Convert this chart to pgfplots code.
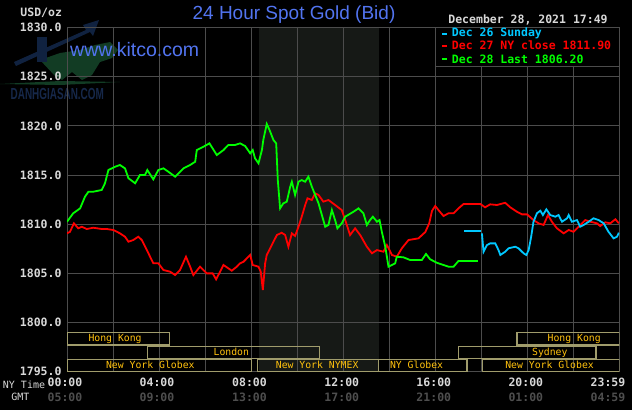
\documentclass[border=0pt]{standalone}
\usepackage{fontspec}
\setmainfont{Liberation Sans}
\newfontfamily\mono{DejaVu Sans Mono}
\usepackage{pgfplots}
\pgfplotsset{compat=1.18}
\definecolor{gridc}{HTML}{4C4C4C}
\definecolor{shadec}{HTML}{161916}
\definecolor{lblgray}{HTML}{D8D8D8}
\definecolor{gmtgray}{HTML}{4E4E4E}
\definecolor{titleblue}{HTML}{5274F0}
\definecolor{sesscol}{HTML}{A09C6C}
\definecolor{sesstext}{HTML}{FFC20E}
\definecolor{cyanc}{HTML}{00C8FF}
\definecolor{greenc}{HTML}{00FF00}
\definecolor{redc}{HTML}{FF0000}
\definecolor{wmnavy}{HTML}{102240}
\definecolor{wmtext}{HTML}{16284A}
\definecolor{wmgreen}{HTML}{123C24}
\newcommand{\tickfont}{\mono\bfseries\fontsize{11.5bp}{12bp}\selectfont}
\newcommand{\smallmono}{\mono\fontsize{10bp}{11bp}\selectfont}
\newcommand{\sessfont}{\mono\fontsize{9.8bp}{10bp}\selectfont}
\begin{document}
\begin{tikzpicture}[x=1bp,y=1bp]
\fill[black] (0,0) rectangle (632,410);
\useasboundingbox (0,0) rectangle (632,410);
% watermark
\fill[wmgreen] (0,326) -- (60,329) -- (120,328) -- (60,325) -- cycle;
\fill[wmgreen] (40,350) -- (60,357) -- (80,360) -- (95,365) -- (110,368) -- (118,360) -- (112,352) -- (100,348) -- (92,335) -- (82,330) -- (72,338) -- (62,330) -- (55,334) -- cycle;
\fill[wmnavy] (37,348) rectangle (47,373);
\fill[wmnavy] (14,348) -- (86,380) -- (83,385) -- (99,390) -- (93,374) -- (90,378) -- (16,344) -- cycle;
\node[text=wmtext, font=\bfseries\fontsize{16bp}{16bp}\selectfont, xscale=0.62, inner sep=0pt] at (57.3,316) {DANHGIASAN.COM};
% NYMEX shading
\fill[shadec] (258.5,38.3) rectangle (378.8,382.5);
\begin{axis}[
  at={(67bp,38.3bp)}, anchor=south west,
  scale only axis, width=552.3bp, height=344.2bp,
  xmin=0, xmax=24, ymin=1795, ymax=1830,
  xtick={0,2,...,24}, ytick={1795,1800,...,1830},
  xticklabels={},
  grid=major, major grid style={gridc, line width=1bp},
  axis line style={gridc, line width=1bp},
  major tick length=0pt,
  yticklabel style={font=\tickfont, text=lblgray, anchor=east, inner sep=0pt, xshift=-5.3bp},
  /pgf/number format/fixed, /pgf/number format/fixed zerofill,
  /pgf/number format/precision=1, /pgf/number format/1000 sep={},
  /pgf/number format/assume math mode=true,
]
% Dec 27 (red)
\addplot[redc, line width=1.8bp, mark=none] coordinates {
(0,1809.07) (0.13,1809.23) (0.30,1810.09) (0.49,1809.58) (0.64,1809.74) (0.86,1809.51)
(1.14,1809.64) (1.51,1809.51) (1.73,1809.51) (2.01,1809.41) (2.30,1809.07) (2.52,1808.73)
(2.67,1808.22) (2.88,1808.39) (3.10,1808.73) (3.25,1808.39) (3.47,1807.37) (3.75,1806.02)
(3.97,1806.02) (4.19,1805.34) (4.48,1805.17) (4.70,1804.83) (4.91,1805.34) (5.17,1806.69)
(5.35,1805.68) (5.49,1804.83) (5.78,1805.68) (6.07,1805.00) (6.33,1805.00) (6.48,1804.39)
(6.80,1805.85) (7.16,1805.27) (7.38,1805.68) (7.52,1806.02) (7.67,1806.18) (7.96,1806.87)
(8.07,1805.85) (8.32,1805.68) (8.42,1805.17) (8.51,1803.31) (8.61,1806.02) (8.68,1806.87)
(8.90,1807.88) (9.12,1808.90) (9.33,1809.13) (9.48,1808.90) (9.62,1807.71) (9.77,1809.07)
(9.91,1808.80) (10.06,1809.74) (10.20,1810.76) (10.35,1811.95) (10.45,1812.63) (10.64,1812.46)
(10.78,1813.14) (10.93,1812.97) (11.14,1812.29) (11.36,1812.46) (11.65,1811.95) (11.94,1811.44)
(12.16,1809.92) (12.30,1808.90) (12.52,1809.58) (12.74,1808.90) (13.03,1807.71) (13.25,1807.04)
(13.47,1807.37) (13.75,1807.20) (13.90,1807.88) (14.12,1806.87) (14.33,1806.69) (14.55,1807.55)
(14.84,1808.39) (15.27,1808.56) (15.35,1808.73) (15.57,1809.20) (15.74,1810.09) (15.86,1811.35)
(16.00,1811.85) (16.14,1811.44) (16.36,1810.83) (16.58,1811.11) (16.80,1811.11) (17.01,1811.61)
(17.23,1812.05) (17.96,1812.05) (18.17,1811.72) (18.39,1812.02) (18.68,1811.95) (19.04,1812.18)
(19.26,1811.72) (19.55,1811.27) (19.77,1811.00) (19.99,1811.00) (20.27,1810.42) (20.49,1810.09)
(20.71,1809.92) (20.90,1810.93) (21.07,1810.25) (21.29,1809.58) (21.58,1809.07) (21.80,1809.41)
(22.01,1809.23) (22.23,1809.74) (22.52,1810.42) (22.74,1810.25) (23.03,1810.09) (23.17,1809.81)
(23.39,1810.19) (23.61,1810.09) (23.83,1810.50) (23.98,1810.09)
};
% Dec 26 Sunday (cyan)
\addplot[cyanc, line width=2.6bp, mark=none] coordinates {(17.27,1809.31) (18.00,1809.31)};
\addplot[cyanc, line width=1.8bp, mark=none] coordinates {
(18.03,1809.07) (18.10,1807.20) (18.25,1807.88) (18.39,1808.05) (18.61,1808.05) (18.75,1807.37)
(18.83,1806.87) (19.04,1807.20) (19.19,1807.55) (19.48,1807.71) (19.62,1807.55) (19.84,1807.04)
(19.96,1806.87) (20.06,1807.37) (20.17,1808.73) (20.27,1810.25) (20.42,1811.11) (20.57,1811.37)
(20.68,1810.93) (20.83,1811.51) (21.00,1810.93) (21.22,1810.76) (21.36,1810.93) (21.51,1810.25)
(21.73,1810.60) (21.80,1810.93) (21.94,1810.25) (22.16,1810.42) (22.30,1809.74) (22.45,1809.92)
(22.67,1810.25) (22.88,1810.60) (23.10,1810.42) (23.32,1810.09) (23.53,1809.23) (23.75,1808.56)
(23.90,1808.73) (23.98,1809.13)
};
% Dec 28 (green)
\addplot[greenc, line width=1.8bp, mark=none] coordinates {
(0,1810.25) (0.27,1811.11) (0.57,1811.61) (0.78,1812.79) (0.93,1813.30) (1.14,1813.30)
(1.51,1813.48) (1.65,1814.16) (1.80,1815.51) (2.09,1815.84) (2.30,1816.02) (2.52,1815.68)
(2.67,1814.67) (2.96,1814.16) (3.17,1815.00) (3.39,1815.00) (3.49,1815.51) (3.75,1814.56)
(3.97,1815.51) (4.19,1815.68) (4.40,1815.34) (4.70,1814.83) (5.06,1815.68) (5.35,1816.02)
(5.57,1816.35) (5.64,1817.54) (5.93,1817.88) (6.19,1818.22) (6.51,1817.03) (6.80,1817.54)
(7.01,1818.05) (7.30,1818.05) (7.52,1818.22) (7.74,1817.95) (7.96,1817.21) (8.07,1817.54)
(8.17,1816.70) (8.32,1816.19) (8.47,1817.54) (8.53,1818.56) (8.68,1820.19) (8.80,1819.58)
(8.97,1818.56) (9.09,1818.22) (9.16,1814.49) (9.26,1811.61) (9.40,1812.12) (9.55,1812.29)
(9.70,1813.81) (9.77,1814.32) (9.91,1812.97) (10.06,1814.32) (10.20,1814.49) (10.35,1814.32)
(10.49,1814.83) (10.64,1813.81) (10.93,1812.12) (11.22,1809.74) (11.36,1809.92) (11.51,1811.44)
(11.65,1810.42) (11.75,1809.58) (11.94,1810.09) (12.09,1810.76) (12.45,1811.27) (12.67,1811.61)
(12.88,1811.11) (13.03,1809.92) (13.17,1810.42) (13.29,1810.76) (13.47,1810.25) (13.58,1810.42)
(13.68,1809.23) (13.83,1807.71) (13.97,1805.68) (14.12,1805.85) (14.26,1806.02) (14.33,1806.69)
(14.62,1806.63) (14.91,1806.36) (15.20,1806.36) (15.42,1806.36) (15.60,1806.97) (15.78,1806.43)
(16.07,1806.08) (16.36,1805.85) (16.58,1805.68) (16.80,1805.68) (17.01,1806.26)
};
\addplot[greenc, line width=2.6bp, mark=none] coordinates {(17.01,1806.26) (17.84,1806.26)};
% trading sessions
\begin{scope}[sesscol, line width=1.3bp]
\draw (axis cs:0,1797.73) rectangle (axis cs:4.45,1798.97);
\draw (axis cs:19.55,1797.73) rectangle (axis cs:24,1798.97);
\draw (axis cs:3.49,1796.34) rectangle (axis cs:10.97,1797.58);
\draw (axis cs:17.0,1796.34) rectangle (axis cs:22.99,1797.58);
\draw (axis cs:0,1795.0) rectangle (axis cs:8.03,1796.24);
\draw (axis cs:8.29,1795.0) rectangle (axis cs:13.53,1796.24);
\draw (axis cs:13.53,1795.0) rectangle (axis cs:17.38,1796.24);
\draw (axis cs:18.06,1795.0) rectangle (axis cs:24,1796.24);
\end{scope}
\begin{scope}[every node/.style={text=sesstext, font=\sessfont, inner sep=0pt}]
\node at (axis cs:2.09,1798.29) {Hong Kong};
\node at (axis cs:22.04,1798.29) {Hong Kong};
\node at (axis cs:7.14,1796.97) {London};
\node at (axis cs:20.98,1796.97) {Sydney};
\node at (axis cs:3.62,1795.68) {New York Globex};
\node at (axis cs:10.87,1795.68) {New York NYMEX};
\node at (axis cs:15.19,1795.68) {NY Globex};
\node at (axis cs:20.97,1795.68) {New York Globex};
\end{scope}
\end{axis}
% legend box
\filldraw[fill=black, draw=gridc, line width=1bp] (435.7,343.3) rectangle (619.3,382.5);
\draw[cyanc, line width=2bp] (442.3,376.3) -- (447.3,376.3);
\draw[redc, line width=2bp] (442.3,364.3) -- (447.3,364.3);
\draw[greenc, line width=2bp] (442.3,350.7) -- (447.3,350.7);
\begin{scope}[every node/.style={font=\tickfont, inner sep=0pt, anchor=west}]
\node[text=cyanc] at (451.7,376.3) {Dec 26 Sunday};
\node[text=redc] at (451.7,364.3) {Dec 27 NY close 1811.90};
\node[text=greenc] at (451.7,350.7) {Dec 28 Last 1806.20};
\end{scope}
% titles
\node[text=titleblue, font=\fontsize{19bp}{20bp}\selectfont, inner sep=0pt] at (294,395) {24 Hour Spot Gold (Bid)};
\node[text=titleblue, font=\fontsize{19.5bp}{20bp}\selectfont, inner sep=0pt] at (134.7,360.7) {www.kitco.com};
\node[text=lblgray, font=\tickfont, inner sep=0pt] at (528,390) {December 28, 2021 17:49};
\node[text=lblgray, font=\tickfont, inner sep=0pt] at (41.2,397) {USD/oz};
% x labels
\node[text=lblgray, font=\smallmono, inner sep=0pt] at (24,25) {NY Time};
\node[text=lblgray, font=\smallmono, inner sep=0pt] at (20.3,12.7) {GMT};
\begin{scope}[every node/.style={font=\tickfont, inner sep=0pt}]
\node[text=lblgray] at (65,27.3) {00:00};
\node[text=lblgray] at (157,27.3) {04:00};
\node[text=lblgray] at (249.5,27.3) {08:00};
\node[text=lblgray] at (341.8,27.3) {12:00};
\node[text=lblgray] at (433.8,27.3) {16:00};
\node[text=lblgray] at (525.8,27.3) {20:00};
\node[text=lblgray] at (608,27.3) {23:59};
\node[text=gmtgray] at (65,12.7) {05:00};
\node[text=gmtgray] at (157,12.7) {09:00};
\node[text=gmtgray] at (249.5,12.7) {13:00};
\node[text=gmtgray] at (341.8,12.7) {17:00};
\node[text=gmtgray] at (433.8,12.7) {21:00};
\node[text=gmtgray] at (525.8,12.7) {01:00};
\node[text=gmtgray] at (608,12.7) {04:59};
\end{scope}
\end{tikzpicture}
\end{document}
